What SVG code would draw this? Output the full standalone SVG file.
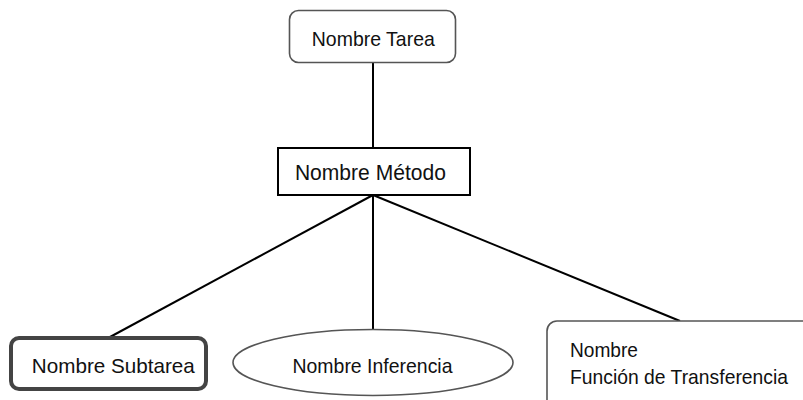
<svg xmlns="http://www.w3.org/2000/svg" width="803" height="400" viewBox="0 0 803 400">
<style>
.t{font-family:"Liberation Sans",Arial,sans-serif;font-size:21px;fill:#111}
.m{text-anchor:middle}
.conn line{stroke:#000;stroke-width:2}
</style>
<rect width="803" height="400" fill="#fff"/>
<g id="connectors" class="conn">
<line x1="373" y1="63" x2="373" y2="147"/>
<line x1="373" y1="195" x2="110" y2="337"/>
<line x1="373" y1="195" x2="373" y2="329"/>
<line x1="373" y1="195" x2="680" y2="321"/>
</g>
<g id="tarea">
<rect x="289.5" y="10.5" width="166" height="52" rx="9" fill="#fff" stroke="#555" stroke-width="1.6"/>
<text class="t m" x="373.3" y="45.5" textLength="123" lengthAdjust="spacingAndGlyphs">Nombre Tarea</text>
</g>
<g id="metodo">
<rect x="278" y="148" width="192" height="47" fill="#fff" stroke="#000" stroke-width="2"/>
<text class="t m" x="370.4" y="179.5" style="font-size:22px" textLength="151" lengthAdjust="spacingAndGlyphs">Nombre Método</text>
</g>
<g id="subtarea">
<rect x="11" y="338" width="195" height="51" rx="8" fill="#fff" stroke="#444" stroke-width="4"/>
<text class="t m" x="113.3" y="373" textLength="163" lengthAdjust="spacingAndGlyphs">Nombre Subtarea</text>
</g>
<g id="inferencia">
<ellipse cx="373" cy="362.5" rx="140" ry="33" fill="#fff" stroke="#555" stroke-width="1.6"/>
<text class="t m" x="372.5" y="373" textLength="160" lengthAdjust="spacingAndGlyphs">Nombre Inferencia</text>
</g>
<g id="transferencia">
<rect x="547" y="321" width="300" height="110" rx="10" fill="#fff" stroke="#555" stroke-width="1.6"/>
<text class="t" x="570" y="356.5" textLength="68" lengthAdjust="spacingAndGlyphs">Nombre</text>
<text class="t" x="570" y="384" textLength="218" lengthAdjust="spacingAndGlyphs">Función de Transferencia</text>
</g>
</svg>
